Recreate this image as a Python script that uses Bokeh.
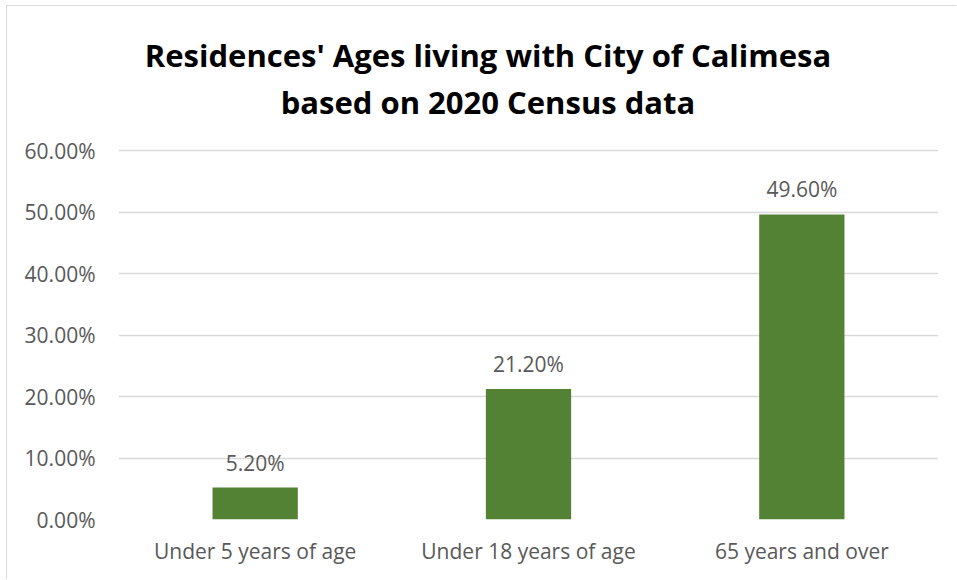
from bokeh.plotting import figure
from bokeh.models import (FactorRange, Range1d, FixedTicker, NumeralTickFormatter,
                          ColumnDataSource, LabelSet, Label)
from bokeh.core.properties import value
from bokeh.embed import file_html
from bokeh.resources import INLINE

# ---- data ----
categories = ["Under 5 years of age", "Under 18 years of age", "65 years and over"]
shares = [0.052, 0.212, 0.496]
y_ticks = [0.0, 0.1, 0.2, 0.3, 0.4, 0.5, 0.6]
title_lines = ["Residences' Ages living with City of Calimesa", "based on 2020 Census data"]

# ---- style ----
BAR = "#548235"
TXT = "#595959"
GRID = "#d9d9d9"
FONT = "Open Sans"

# page geometry (pixels)
OX, OY = 7, 6                 # where the chart box starts
FRAME_L, FRAME_R = 118, 938   # plot area left/right
TOP_LINE, ZERO_LINE = 150, 519
W, H = 950, 574

frame_h = ZERO_LINE - OY
y_end = 0.6 * frame_h / (ZERO_LINE - TOP_LINE)

labels = [f"{v*100:.2f}%" for v in shares]
src = ColumnDataSource(dict(cat=categories, val=shares, lab=labels))

p = figure(width=W, height=H, x_range=FactorRange(*categories, range_padding=0),
           y_range=Range1d(0, y_end), output_backend="svg", toolbar_location=None,
           min_border_left=FRAME_L - OX, min_border_right=OX + W - FRAME_R,
           min_border_top=0, min_border_bottom=OY + H - ZERO_LINE,
           margin=(OY, 0, 0, OX),
           styles={"box-shadow": "-1px -1px 0 0 #d9d9d9"})
p.title = None
p.outline_line_color = None
p.background_fill_color = "white"
p.border_fill_color = "white"

p.vbar(x="cat", top="val", width=0.312, source=src, fill_color=BAR, line_color=None)

p.yaxis.ticker = FixedTicker(ticks=y_ticks)
p.yaxis.formatter = NumeralTickFormatter(format="0.00%")
for ax in (p.xaxis, p.yaxis):
    ax.axis_line_color = None
    ax.major_tick_line_color = None
    ax.minor_tick_line_color = None
    ax.major_tick_out = 0
    ax.major_tick_in = 0
    ax.major_label_text_font = FONT
    ax.major_label_text_font_size = "21px"
    ax.major_label_text_color = TXT
p.yaxis.major_label_standoff = 23
p.xaxis.major_label_standoff = 17

p.xgrid.grid_line_color = None
p.ygrid.grid_line_color = GRID
p.ygrid.grid_line_width = 1.3

p.add_layout(LabelSet(x="cat", y="val", text="lab", source=src, text_align="center",
                      text_baseline="alphabetic", y_offset=17, text_font=value(FONT),
                      text_font_size="21px", text_color=TXT))

title_cx = 487.5 - FRAME_L
for txt, base in zip(title_lines, [54, 101]):
    p.add_layout(Label(x=title_cx, y=ZERO_LINE - base, x_units="screen", y_units="screen",
                       text=txt, text_align="center", text_baseline="alphabetic",
                       text_font=FONT, text_font_style="bold", text_font_size="31px",
                       text_color="#000000"))

open("out.html", "w").write(file_html(p, INLINE))
